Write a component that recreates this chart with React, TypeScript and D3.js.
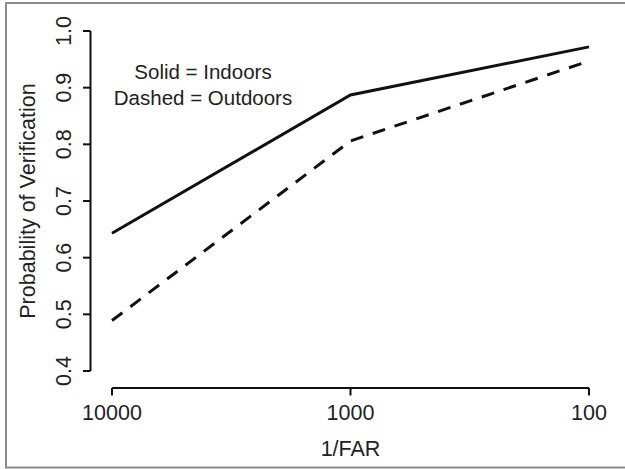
import React from "react";
import * as d3 from "d3";

const farValues = [10000, 1000, 100];
const farLabels = ["10000", "1000", "100"];
const indoors = [0.643, 0.887, 0.972];
const outdoors = [0.489, 0.806, 0.947];
const yTicks = [0.4, 0.5, 0.6, 0.7, 0.8, 0.9, 1.0];
const annotation = ["Solid = Indoors", "Dashed = Outdoors"];

const W = 625;
const H = 469;
const FONT = "'Liberation Sans', Arial, Helvetica, sans-serif";

export default function App() {
  const x = d3.scaleLog().domain([10000, 100]).range([112, 589]);
  const y = d3.scaleLinear().domain([0.4, 1.0]).range([371, 31]);
  const axisY = 388;
  const axisX = 90.5;
  const tick = 7.5;
  const fs = 21.5;

  const line = d3
    .line<number>()
    .x((_, i) => x(farValues[i]))
    .y((d) => y(d));

  const ink = "#111";

  return (
    <svg
      width={W}
      height={H}
      style={{ position: "absolute", left: 0, top: 0, background: "#fff" }}
      fontFamily={FONT}
    >
      <rect x={0} y={0} width={W} height={H} fill="#fff" />
      {/* outer frame */}
      <rect x={6} y={3} width={W + 10} height={464.5} fill="none" stroke="#8c8c8c" strokeWidth={2} />

      {/* y axis */}
      <line x1={axisX} x2={axisX} y1={y(1.0)} y2={y(0.4)} stroke={ink} strokeWidth={2} />
      {yTicks.map((t) => (
        <g key={t}>
          <line x1={axisX - tick} x2={axisX} y1={y(t)} y2={y(t)} stroke={ink} strokeWidth={2} />
          <text
            transform={`translate(${70.5},${y(t)}) rotate(-90)`}
            textAnchor="middle"
            fontSize={fs}
            fill="#222"
          >
            {t.toFixed(1)}
          </text>
        </g>
      ))}
      <text
        transform={`translate(${35},${(y(0.4) + y(1.0)) / 2}) rotate(-90)`}
        textAnchor="middle"
        fontSize={fs}
        fill="#222"
      >
        Probability of Verification
      </text>

      {/* x axis */}
      <line x1={x(10000)} x2={x(100)} y1={axisY} y2={axisY} stroke={ink} strokeWidth={2} />
      {farValues.map((v, i) => (
        <g key={v}>
          <line x1={x(v)} x2={x(v)} y1={axisY} y2={axisY + tick} stroke={ink} strokeWidth={2} />
          <text x={x(v)} y={420} textAnchor="middle" fontSize={fs} fill="#222">
            {farLabels[i]}
          </text>
        </g>
      ))}
      <text x={(x(10000) + x(100)) / 2} y={456} textAnchor="middle" fontSize={fs} fill="#222">
        1/FAR
      </text>

      {/* lines */}
      <path d={line(indoors) || ""} fill="none" stroke={ink} strokeWidth={3} />
      <path d={line(outdoors) || ""} fill="none" stroke={ink} strokeWidth={3} strokeDasharray="13 10" />

      {/* annotation */}
      {annotation.map((s, i) => (
        <text key={s} x={203} y={79 + i * 26} textAnchor="middle" fontSize={20.5} fill="#222">
          {s}
        </text>
      ))}
    </svg>
  );
}
